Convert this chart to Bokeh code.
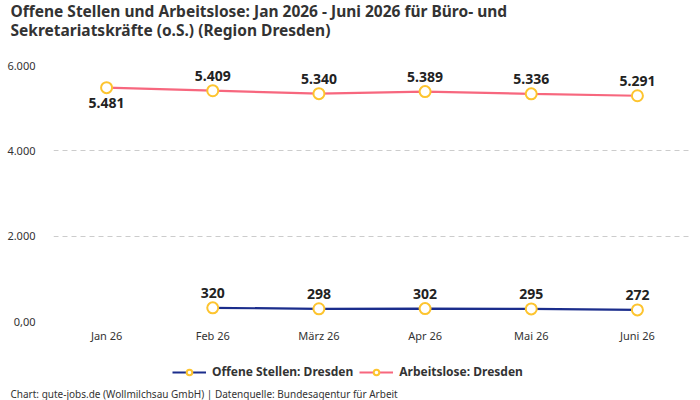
import math

from bokeh.core.properties import value
from bokeh.embed import file_html
from bokeh.layouts import column
from bokeh.models import ColumnDataSource, FixedTicker, Legend, LegendItem, Range1d, Title
from bokeh.plotting import figure
from bokeh.resources import INLINE

# Monthly figures, Region Dresden
months = ["Jan 26", "Feb 26", "März 26", "Apr 26", "Mai 26", "Juni 26"]
offene_stellen = [math.nan, 320, 298, 302, 295, 272]
arbeitslose = [5481, 5409, 5340, 5389, 5336, 5291]
y_ticks = [0, 2000, 4000, 6000]
y_tick_labels = ["0,00", "2.000", "4.000", "6.000"]
series_names = ["Offene Stellen: Dresden", "Arbeitslose: Dresden"]

# Label placement: -1 above the point, +1 below it
arbeitslose_label_side = [1, -1, -1, -1, -1, -1]
offene_label_side = [-1, -1, -1, -1, -1, -1]

FONT = "Noto Sans"
NAVY = "#1b2d8c"
PINK = "#f7677e"
MARKER = "#fdc42f"
TEXT = "#222222"


def de_number(v):
    if v is None or (isinstance(v, float) and math.isnan(v)):
        return ""
    return f"{int(v):,}".replace(",", ".")


def strip(height):
    # chrome-less figure used for header / legend rows
    f = figure(width=700, height=height, output_backend="svg", toolbar_location=None,
               x_axis_location=None, y_axis_location=None, min_border=0,
               x_range=months, y_range=Range1d(-2, -1))
    f.outline_line_color = None
    f.grid.visible = False
    f.background_fill_color = "white"
    f.border_fill_color = "white"
    return f


src_o = ColumnDataSource(dict(
    m=months, v=offene_stellen,
    t=[de_number(v) for v in offene_stellen],
    dy=[s * 15 for s in offene_label_side],
))
src_a = ColumnDataSource(dict(
    m=months, v=arbeitslose,
    t=[de_number(v) for v in arbeitslose],
    dy=[s * 15 for s in arbeitslose_label_side],
))

# ---- heading ------------------------------------------------------------------
head = strip(42)
head.add_layout(Title(
    text="Sekretariatskräfte (o.S.) (Region Dresden)",
    align="left", offset=-43, text_font=FONT, text_font_size="15.5px",
    text_font_style="bold", text_color="#333333", standoff=-5,
), "above")
head.add_layout(Title(
    text="Offene Stellen und Arbeitslose: Jan 2026 - Juni 2026 für Büro- und",
    align="left", offset=-43, text_font=FONT, text_font_size="15.5px",
    text_font_style="bold", text_color="#333333", standoff=-5,
), "above")

# ---- main chart -------------------------------------------------------------
p = figure(
    x_range=months, y_range=Range1d(0, 6000),
    width=700, height=306,
    output_backend="svg", toolbar_location=None,
    min_border_left=53, min_border_right=10,
    min_border_top=23, min_border_bottom=27,
)
p.outline_line_color = None
p.background_fill_color = "white"
p.border_fill_color = "white"

p.xaxis.axis_line_color = None
p.xaxis.major_tick_line_color = None
p.xaxis.minor_tick_line_color = None
p.xaxis.major_label_standoff = 0
p.xaxis.major_label_text_font = FONT
p.xaxis.major_label_text_font_size = "11px"
p.xaxis.major_label_text_color = "#333333"

p.yaxis.axis_line_color = None
p.yaxis.major_tick_line_color = None
p.yaxis.minor_tick_line_color = None
p.yaxis.major_label_standoff = 12
p.yaxis.ticker = FixedTicker(ticks=y_ticks)
p.yaxis.major_label_overrides = {t: lab for t, lab in zip(y_ticks, y_tick_labels)}
p.yaxis.major_label_text_font = FONT
p.yaxis.major_label_text_font_size = "11px"
p.yaxis.major_label_text_color = "#333333"

p.xgrid.grid_line_color = None
p.ygrid.grid_line_color = "#cccccc"
p.ygrid.grid_line_dash = "5 4"
p.ygrid.grid_line_width = 1

p.line(x="m", y="v", source=src_o, line_color=NAVY, line_width=2.2)
p.scatter(x="m", y="v", source=src_o, size=11, fill_color="white",
          line_color=MARKER, line_width=2)
p.line(x="m", y="v", source=src_a, line_color=PINK, line_width=2.2)
p.scatter(x="m", y="v", source=src_a, size=11, fill_color="white",
          line_color=MARKER, line_width=2)

for src in (src_o, src_a):
    p.text(x="m", y="v", text="t", source=src, y_offset="dy",
           text_align="center", text_baseline="middle",
           text_font=value(FONT), text_font_size="14px",
           text_font_style="bold", text_color=TEXT)

# ---- legend row and source note -----------------------------------------------
foot = strip(52)
items = []
for name, color, src in zip(series_names, [NAVY, PINK], [src_o, src_a]):
    # same series, drawn outside this strip's visible range; only the key shows
    ln = foot.line(x="m", y="v", source=src, line_color=color, line_width=2.2)
    mk = foot.scatter(x="m", y="v", source=src, size=11, fill_color="white",
                      line_color=MARKER, line_width=2)
    items.append(LegendItem(label=name, renderers=[ln, mk]))

foot.add_layout(Legend(
    items=items, orientation="horizontal", location=(119, 4),
    border_line_color=None, background_fill_alpha=0,
    label_text_font=FONT, label_text_font_size="12px",
    label_text_font_style="bold", label_text_color="#333333",
    glyph_width=34, glyph_height=14, label_standoff=6, spacing=6,
    margin=0, padding=4,
), "center")

foot.add_layout(Title(
    text="Chart: gute-jobs.de (Wollmilchsau GmbH) | Datenquelle: Bundesagentur für Arbeit",
    align="left", offset=-43, text_font=FONT, text_font_size="10px",
    text_font_style="normal", text_color="#333333", standoff=0,
), "below")

layout = column(head, p, foot, spacing=0)
open("out.html", "w").write(file_html(layout, INLINE))
